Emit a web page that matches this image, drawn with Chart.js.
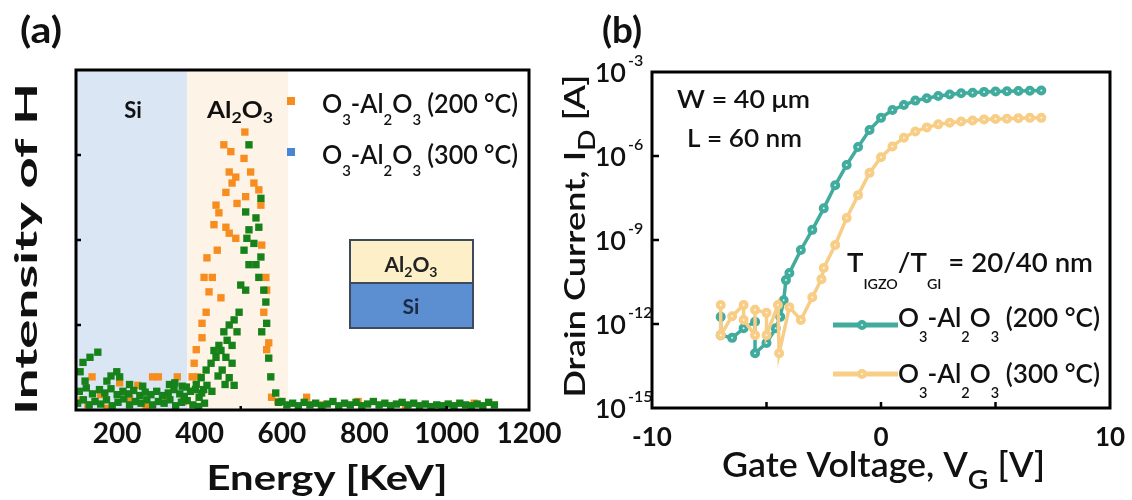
<!DOCTYPE html>
<html>
<head>
<meta charset="utf-8">
<script src="https://cdn.jsdelivr.net/npm/chart.js@4.4.1/dist/chart.umd.min.js"></script>
<style>
  body { margin: 0; background: #fff; }
  #wrap { position: relative; width: 1132px; height: 500px; overflow: hidden; }
  #boxA { position: absolute; left: 0; top: 0; width: 600px; height: 500px; }
  #boxB { position: absolute; left: 540px; top: 0; width: 592px; height: 500px; }
</style>
</head>
<body>
<div id="wrap">
  <div id="boxA"><canvas id="chartA"></canvas></div>
  <div id="boxB"><canvas id="chartB"></canvas></div>
</div>
<script>
const FONT = 'Lato, "Open Sans", sans-serif';
const INK = '#111';

// ---- panel (a): H intensity vs energy ----
const energyTicks = [200, 400, 600, 800, 1000, 1200];
const energyMarks = [500, 1000];
const intensityMarks = [1, 2, 3];
const siRegion = [100, 370];
const al2o3Region = [370, 615];

// [energy, intensity]
const hScan200 = [
  [510,3.27],[459,3.12],[476,3.04],[508,2.96],[472,2.80],[488,2.74],[524,2.80],[532,2.67],
  [544,2.59],[464,2.56],[479,2.67],[512,2.51],[491,2.43],[440,2.41],[447,2.32],[549,2.41],
  [435,2.18],[464,2.15],[472,2.08],[488,2.02],[443,1.88],[418,1.79],[551,1.94],[411,1.56],
  [431,1.56],[423,1.39],[452,1.32],[561,1.56],[563,1.41],[416,1.15],[406,1.02],[556,1.15],
  [406,0.85],[392,0.71],[387,0.55],[382,0.39],[395,0.39],[563,0.71],[568,0.79],[575,0.15],
  [139,0.39],[206,0.32],[286,0.39],[300,0.39],[346,0.39],[250,0.29],[129,0.06],[175,0.02],
  [115,0.12],[160,0.18],[230,0.14],[270,0.05],[320,0.16],[360,0.10],
  [590,0.10],[660,0.15],[700,0.06],[785,0.10],[900,0.05],[1067,0.08]
];
const hScan300 = [
  [520,3.12],[549,2.49],[512,2.33],[537,2.26],[544,2.15],[520,2.12],[515,2.02],[532,1.96],
  [508,1.88],[549,1.80],[520,1.71],[537,1.71],[544,1.56],[500,1.47],[512,1.41],[556,1.41],
  [561,1.27],[496,1.15],[484,1.06],[472,1.00],[459,0.92],[491,0.92],[563,1.02],[551,0.92],
  [447,0.76],[479,0.76],[440,0.62],[464,0.62],[428,0.55],[479,0.55],[416,0.47],[455,0.47],
  [404,0.38],[472,0.38],[568,0.61],[573,0.39],[484,0.29],[418,0.29],[399,0.15],[435,0.70],
  [452,0.70],[467,0.82],[445,0.40],[462,0.30],[430,0.22],[410,0.24],[392,0.30],[585,0.20],
  [592,0.09],
  [104,0.08],[118,0.12],[132,0.06],[146,0.10],[160,0.07],[174,0.12],[188,0.05],[202,0.09],
  [216,0.13],[230,0.06],[244,0.10],[258,0.08],[272,0.12],[286,0.06],[300,0.10],[314,0.08],
  [328,0.12],[342,0.05],[356,0.09],[370,0.11],[384,0.06],[398,0.04],[412,0.08],
  [108,0.22],[125,0.26],[140,0.19],[157,0.24],[170,0.20],[185,0.25],[200,0.18],[214,0.22],
  [228,0.19],[240,0.23],[255,0.17],[268,0.21],[282,0.18],[296,0.22],[310,0.17],[324,0.20],
  [338,0.24],[352,0.19],[363,0.16],[378,0.22],[390,0.24],[405,0.20],
  [110,0.45],[117,0.56],[134,0.62],[153,0.68],[122,0.34],[175,0.34],[199,0.45],[206,0.39],
  [230,0.30],[262,0.28],[327,0.30],[358,0.28],[340,0.32],[185,0.40],[368,0.27],
  [600,0.10],[612,0.06],[626,0.08],[640,0.05],[654,0.09],[668,0.06],[682,0.08],[696,0.05],
  [710,0.07],[724,0.10],[738,0.05],[752,0.08],[766,0.06],[780,0.09],[794,0.05],[808,0.07],
  [822,0.10],[836,0.06],[850,0.08],[864,0.05],[878,0.07],[892,0.09],[906,0.06],[920,0.08],
  [934,0.05],[948,0.07],[962,0.04],[976,0.06],[990,0.05],[1004,0.07],[1018,0.05],[1032,0.08],
  [1046,0.06],[1060,0.05],[1074,0.07],[1088,0.05],[1102,0.09],[1116,0.06]
];

// ---- panel (b): transfer curves ----
const vgTicks = [-10, 0, 10];
const vgMarks = [-5, 0, 5];
const idTicks = [1e-3, 1e-6, 1e-9, 1e-12, 1e-15];
const idTickExp = ['-3', '-6', '-9', '-12', '-15'];

const vg200 = [-7.0, -7.0, -6.5, -6.0, -5.5, -5.5, -5.0, -4.6, -4.4, -4.25, -4.15, -4.0, -3.5, -3.0,
  -2.5, -2.0, -1.5, -1.0, -0.5, 0.0, 0.5, 1.0, 1.5, 2.0, 2.5, 3.0, 3.5, 4.0, 4.5, 5.0, 5.5, 6.0, 6.5, 7.0];
const id200 = [1.8e-12, 4e-13, 3.2e-13, 7e-13, 1.2e-12, 9e-14, 2.1e-13, 7e-13, 1.8e-12, 7e-12, 3.7e-11, 6.6e-11, 4.4e-10, 2.3e-9,
  1.35e-8, 9e-8, 4.8e-7, 2.1e-6, 8.5e-6, 2.3e-5, 4.4e-5, 6.6e-5, 9.5e-5, 1.15e-4, 1.38e-4, 1.58e-4, 1.74e-4, 1.82e-4, 1.95e-4, 2.0e-4, 2.04e-4, 2.09e-4, 2.14e-4, 2.2e-4];

const vg300 = [-7.0, -7.0, -6.5, -6.0, -6.0, -5.5, -5.5, -5.0, -5.0, -4.5, -4.45, -4.0, -3.5, -3.0, -2.6, -2.5,
  -2.0, -1.5, -1.0, -0.5, 0.0, 0.5, 1.0, 1.5, 2.0, 2.5, 3.0, 3.5, 4.0, 4.5, 5.0, 5.5, 6.0, 6.5, 7.0];
const id300 = [4.8e-12, 4e-13, 1.9e-12, 4.8e-12, 1.4e-12, 4e-13, 3.2e-12, 2.5e-12, 4e-13, 4.8e-12, 9e-14, 4e-12, 1.4e-12, 9e-12, 4e-11, 1e-10,
  6.6e-10, 6.1e-9, 4e-8, 2.5e-7, 9e-7, 2.2e-6, 4.5e-6, 7.5e-6, 1.05e-5, 1.35e-5, 1.55e-5, 1.7e-5, 1.85e-5, 2.0e-5, 2.1e-5, 2.15e-5, 2.25e-5, 2.3e-5, 2.3e-5];

const ORANGE = '#f78c1f', GREEN = '#17811a', BLUE = '#4a86d0';
const TEAL = '#41ab9d', TEAL_IN = '#d8f5f0';
const PEACH = '#f8cd86', PEACH_IN = '#fff6e6';

// text with optional sub/superscripts, stretched to a width if asked
function drawText(ctx, parts, x, y, o) {
  if (typeof parts === 'string') parts = [[parts]];
  const wt = o.weight || 'bold';
  const big = wt + ' ' + o.size + 'px ' + FONT;
  const small = wt + ' ' + (o.subSize || Math.round(o.size * 0.6)) + 'px ' + FONT;
  ctx.save();
  let w = 0;
  for (const p of parts) { ctx.font = p[1] ? small : big; w += ctx.measureText(p[0]).width; }
  const sx = o.width ? o.width / w : 1;
  ctx.translate(x, y);
  if (o.rot) ctx.rotate(o.rot);
  const al = o.align || 'left';
  ctx.translate(al === 'center' ? -w * sx / 2 : al === 'right' ? -w * sx : 0, 0);
  ctx.scale(sx, 1);
  ctx.fillStyle = o.color || INK;
  ctx.textBaseline = 'alphabetic';
  ctx.textAlign = 'left';
  let cx = 0;
  for (const p of parts) {
    ctx.font = p[1] ? small : big;
    const dy = p[1] === 'sub' ? (o.subDy || 0) : p[1] === 'sup' ? -(o.supDy || 0) : 0;
    ctx.fillText(p[0], cx, dy);
    cx += ctx.measureText(p[0]).width;
  }
  ctx.restore();
}

const O3Al2O3 = t => [['O'], ['3', 'sub'], ['-Al'], ['2', 'sub'], ['O'], ['3', 'sub'], [' (' + t + ' °C)']];

const panelA = {
  id: 'panelA',
  beforeDatasetsDraw(chart) {
    const { ctx, chartArea: a, scales: { x } } = chart;
    ctx.save();
    ctx.fillStyle = '#dbe6f5';
    const s0 = x.getPixelForValue(siRegion[0]), s1 = x.getPixelForValue(siRegion[1]);
    ctx.fillRect(s0, a.top, s1 - s0, a.height);
    ctx.fillStyle = '#fdf3e6';
    const a0 = x.getPixelForValue(al2o3Region[0]), a1 = x.getPixelForValue(al2o3Region[1]);
    ctx.fillRect(a0, a.top, a1 - a0, a.height);
    ctx.restore();
  },
  afterDraw(chart) {
    const { ctx, chartArea: a, scales: { x, y } } = chart;
    ctx.save();
    ctx.strokeStyle = '#000';
    ctx.lineWidth = 3;
    ctx.strokeRect(a.left, a.top, a.width, a.height);
    ctx.lineWidth = 2.5;
    ctx.beginPath();
    intensityMarks.forEach(v => { const py = y.getPixelForValue(v); ctx.moveTo(a.left, py); ctx.lineTo(a.left + 5, py); });
    energyMarks.forEach(v => { const px = x.getPixelForValue(v); ctx.moveTo(px, a.bottom); ctx.lineTo(px, a.bottom - 4); });
    ctx.stroke();

    energyTicks.forEach(v => drawText(ctx, String(v), x.getPixelForValue(v), 443, { size: 28, align: 'center' }));
    drawText(ctx, 'Energy [KeV]', 327, 490, { size: 35, align: 'center', width: 241 });
    drawText(ctx, 'Intensity of H', 37, 249, { size: 31, align: 'center', width: 332, rot: -Math.PI / 2 });
    drawText(ctx, '(a)', 20, 43, { size: 36, width: 42 });

    drawText(ctx, 'Si', 133, 118, { size: 22, align: 'center' });
    drawText(ctx, [['Al'], ['2', 'sub'], ['O'], ['3', 'sub']], 207, 118, { size: 22, width: 66, subSize: 15, subDy: 5 });

    // legend
    ctx.fillStyle = ORANGE; ctx.fillRect(287, 97, 8, 8);
    ctx.fillStyle = BLUE; ctx.fillRect(287, 148, 8, 8);
    drawText(ctx, O3Al2O3('200'), 322, 113, { size: 27, weight: '600', width: 196, subSize: 16, subDy: 12 });
    drawText(ctx, O3Al2O3('300'), 322, 164, { size: 27, weight: '600', width: 196, subSize: 16, subDy: 12 });

    // layer stack inset
    ctx.fillStyle = '#fdefc8'; ctx.fillRect(350, 240, 123, 43);
    ctx.fillStyle = '#5b8fd1'; ctx.fillRect(350, 283, 123, 45);
    ctx.strokeStyle = '#3d4a5c'; ctx.lineWidth = 2;
    ctx.strokeRect(350, 240, 123, 88);
    ctx.beginPath(); ctx.moveTo(350, 283); ctx.lineTo(473, 283); ctx.stroke();
    drawText(ctx, [['Al'], ['2', 'sub'], ['O'], ['3', 'sub']], 411, 272, { size: 21, align: 'center', subSize: 14, subDy: 5, color: '#222' });
    drawText(ctx, 'Si', 411, 314, { size: 21, align: 'center', color: '#1c2a44' });
    ctx.restore();
  }
};

function marker(ctx, px, py, fill, edge) {
  ctx.beginPath();
  ctx.arc(px, py, 3, 0, Math.PI * 2);
  ctx.fillStyle = fill; ctx.fill();
  ctx.lineWidth = 4; ctx.strokeStyle = edge; ctx.stroke();
}

const panelB = {
  id: 'panelB',
  afterDraw(chart) {
    const { ctx, chartArea: a, scales: { x, y } } = chart;
    ctx.save();
    ctx.strokeStyle = '#000';
    ctx.lineWidth = 3;
    ctx.strokeRect(a.left, a.top, a.width, a.height);
    ctx.lineWidth = 2.5;
    ctx.beginPath();
    idTicks.slice(1, -1).forEach(v => { const py = y.getPixelForValue(v); ctx.moveTo(a.left, py); ctx.lineTo(a.left + 7, py); });
    vgMarks.forEach(v => { const px = x.getPixelForValue(v); ctx.moveTo(px, a.bottom); ctx.lineTo(px, a.bottom - 6); });
    ctx.stroke();

    vgTicks.forEach(v => drawText(ctx, String(v), x.getPixelForValue(v), 446, { size: 26, align: 'center' }));
    idTicks.forEach((v, i) => {
      const py = y.getPixelForValue(v);
      drawText(ctx, '10', 86, py + 10, { size: 27, weight: '600', align: 'right' });
      drawText(ctx, idTickExp[i], 88, py - 6, { size: 16, weight: '600' });
    });
    drawText(ctx, [['Gate Voltage, V'], ['G', 'sub'], [' [V]']], 182, 477, { size: 34, weight: '600', width: 323, subSize: 27, subDy: 12 });
    drawText(ctx, [['Drain Current, I'], ['D', 'sub'], [' [A]']], 45, 236, { size: 28, weight: '600', align: 'center', width: 323, rot: -Math.PI / 2, subSize: 22, subDy: 10 });
    drawText(ctx, '(b)', 62, 43, { size: 36, width: 40 });

    drawText(ctx, 'W = 40 μm', 137, 108, { size: 25, weight: '600', width: 133 });
    drawText(ctx, 'L = 60 nm', 147, 147, { size: 25, weight: '600', width: 115 });
    drawText(ctx, [['T'], ['IGZO', 'sub'], ['/T'], ['GI', 'sub'], [' = 20/40 nm']], 307, 272, { size: 27, weight: '600', width: 246, subSize: 14, subDy: 17 });

    // legend
    [[325, TEAL, TEAL_IN, '200', 327], [374, PEACH, PEACH_IN, '300', 383]].forEach(r => {
      ctx.strokeStyle = r[1]; ctx.lineWidth = 5;
      ctx.beginPath(); ctx.moveTo(293, r[0]); ctx.lineTo(358, r[0]); ctx.stroke();
      marker(ctx, 322, r[0], r[2], r[1]);
      drawText(ctx, O3Al2O3(r[3]), 358, r[4], { size: 27, weight: '600', width: 202, subSize: 15, subDy: 15 });
    });
    ctx.restore();
  }
};

new Chart(document.getElementById('chartA'), {
  type: 'scatter',
  data: {
    datasets: [
      { label: 'O3-Al2O3 (300 °C)', data: hScan300.map(p => ({ x: p[0], y: p[1] })),
        backgroundColor: GREEN, pointStyle: 'rect', pointRadius: 5.2, borderWidth: 0 },
      { label: 'O3-Al2O3 (200 °C)', data: hScan200.map(p => ({ x: p[0], y: p[1] })),
        backgroundColor: ORANGE, pointStyle: 'rect', pointRadius: 5.2, borderWidth: 0 }
    ]
  },
  options: {
    responsive: true,
    maintainAspectRatio: false,
    animation: false,
    layout: { padding: { left: 0, top: 70, right: 71, bottom: 0 } },
    plugins: { legend: { display: false }, tooltip: { enabled: false } },
    scales: {
      x: { type: 'linear', min: 100, max: 1200, ticks: { display: false }, grid: { display: false },
           border: { display: false }, afterFit: s => { s.height = 90; } },
      y: { min: 0, max: 4, ticks: { display: false }, grid: { display: false },
           border: { display: false }, afterFit: s => { s.width = 76; } }
    }
  },
  plugins: [panelA]
});

new Chart(document.getElementById('chartB'), {
  type: 'line',
  data: {
    datasets: [
      { label: 'O3-Al2O3 (300 °C)', data: vg300.map((v, i) => ({ x: v, y: id300[i] })),
        borderColor: PEACH, borderWidth: 3.5, pointRadius: 3, pointBorderWidth: 4,
        pointBackgroundColor: PEACH_IN, pointBorderColor: PEACH, tension: 0 },
      { label: 'O3-Al2O3 (200 °C)', data: vg200.map((v, i) => ({ x: v, y: id200[i] })),
        borderColor: TEAL, borderWidth: 3.5, pointRadius: 3, pointBorderWidth: 4,
        pointBackgroundColor: TEAL_IN, pointBorderColor: TEAL, tension: 0 }
    ]
  },
  options: {
    responsive: true,
    maintainAspectRatio: false,
    animation: false,
    layout: { padding: { left: 0, top: 72, right: 22, bottom: 0 } },
    plugins: { legend: { display: false }, tooltip: { enabled: false } },
    scales: {
      x: { type: 'linear', min: -10, max: 10, ticks: { display: false }, grid: { display: false },
           border: { display: false }, afterFit: s => { s.height = 92; } },
      y: { type: 'logarithmic', min: 1e-15, max: 1e-3, ticks: { display: false }, grid: { display: false },
           border: { display: false }, afterFit: s => { s.width = 112; } }
    }
  },
  plugins: [panelB]
});
</script>
</body>
</html>
